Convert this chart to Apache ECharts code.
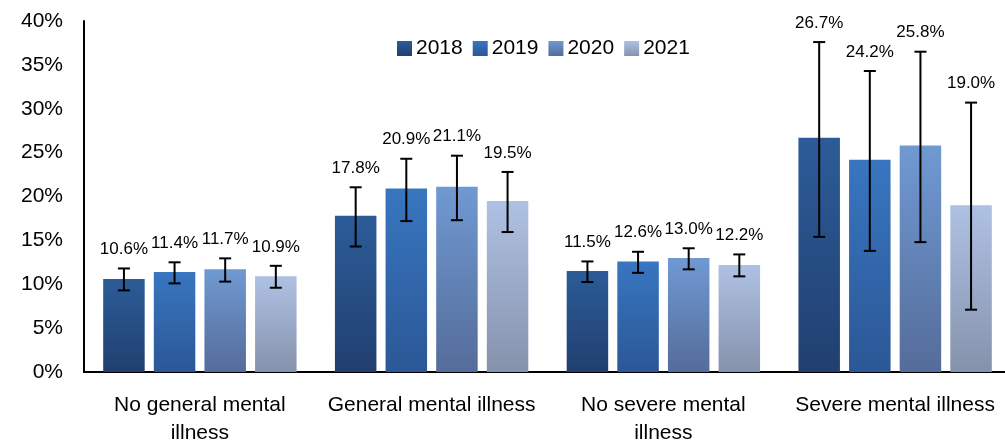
<!DOCTYPE html>
<html>
<head>
<meta charset="utf-8">
<script src="https://cdn.jsdelivr.net/npm/echarts@6/dist/echarts.min.js"></script>
<style>html,body{margin:0;padding:0;background:#fff;}#c{width:1005px;height:444px;}</style>
</head>
<body>
<div id="c"></div>
<script>
const categories = ['No general mental\nillness', 'General mental illness', 'No severe mental\nillness', 'Severe mental illness'];
const years = ['2018', '2019', '2020', '2021'];
const values2018 = [10.6, 17.8, 11.5, 26.7];
const values2019 = [11.4, 20.9, 12.6, 24.2];
const values2020 = [11.7, 21.1, 13.0, 25.8];
const values2021 = [10.9, 19.5, 12.2, 19.0];
const low2018 = [9.3, 14.3, 10.25, 15.4];
const high2018 = [11.8, 21.05, 12.6, 37.6];
const low2019 = [10.1, 17.2, 11.3, 13.8];
const high2019 = [12.5, 24.3, 13.7, 34.3];
const low2020 = [10.3, 17.3, 11.7, 14.8];
const high2020 = [12.95, 24.65, 14.1, 36.5];
const low2021 = [9.6, 15.95, 10.9, 7.1];
const high2021 = [12.1, 22.8, 13.4, 30.7];
const yMax = 40;
const yInterval = 5;

const valueSets = [values2018, values2019, values2020, values2021];
const lowSets = [low2018, low2019, low2020, low2021];
const highSets = [high2018, high2019, high2020, high2021];
const gradStops = [
  ['#2c5c98', '#213f70'],
  ['#3876c0', '#2b5796'],
  ['#7099d2', '#546c9a'],
  ['#afc1e3', '#8592ac']
];
const BAR_W = 41.5;
const BAR_GAP = 0.22;
const FONT = '"Liberation Sans", Arial, sans-serif';

const chart = echarts.init(document.getElementById('c'));
const series = [];
years.forEach((y, i) => {
  series.push({
    name: y,
    type: 'bar',
    data: valueSets[i],
    barWidth: BAR_W,
    barGap: (BAR_GAP * 100) + '%',
    itemStyle: {
      color: new echarts.graphic.LinearGradient(0, 0, 0, 1, [
        { offset: 0, color: gradStops[i][0] },
        { offset: 1, color: gradStops[i][1] }
      ])
    }
  });
});
years.forEach((y, i) => {
  series.push({
    name: y + ' error',
    type: 'custom',
    z: 5,
    data: categories.map((c, k) => [k, lowSets[i][k], highSets[i][k], valueSets[i][k]]),
    encode: { x: 0, y: [1, 2] },
    renderItem: function (params, api) {
      const k = api.value(0);
      const step = BAR_W * (1 + BAR_GAP);
      const cx = api.coord([k, 0])[0] + (i - 1.5) * step;
      const yLo = api.coord([k, api.value(1)])[1];
      const yHi = api.coord([k, api.value(2)])[1];
      const cap = 6;
      const ls = { stroke: '#000', lineWidth: 2 };
      return {
        type: 'group',
        children: [
          { type: 'line', shape: { x1: cx, y1: yLo, x2: cx, y2: yHi }, style: ls },
          { type: 'line', shape: { x1: cx - cap, y1: yLo, x2: cx + cap, y2: yLo }, style: ls },
          { type: 'line', shape: { x1: cx - cap, y1: yHi, x2: cx + cap, y2: yHi }, style: ls },
          { type: 'text', x: cx, y: yHi - 19, style: {
              text: api.value(3).toFixed(1) + '%', fill: '#000', font: '17px ' + FONT,
              align: 'center', verticalAlign: 'middle' } }
        ]
      };
    }
  });
});

chart.setOption({
  animation: false,
  grid: { left: 84, right: -6, top: 21, bottom: 72, outerBoundsMode: 'none', containLabel: false },
  legend: {
    data: years,
    left: 392,
    top: 33,
    itemWidth: 15,
    itemHeight: 15,
    itemGap: 10,
    icon: 'rect',
    textStyle: { fontSize: 21, color: '#000', fontFamily: FONT, padding: [0, 0, 0, -1] }
  },
  xAxis: {
    type: 'category',
    data: categories,
    axisLine: { lineStyle: { color: '#000', width: 2 } },
    axisTick: { show: false },
    axisLabel: { color: '#000', fontSize: 21, fontFamily: FONT, lineHeight: 28, margin: 19, interval: 0 }
  },
  yAxis: {
    type: 'value',
    min: 0,
    max: yMax,
    interval: yInterval,
    axisLine: { show: true, lineStyle: { color: '#000', width: 2 } },
    axisTick: { show: false },
    splitLine: { show: false },
    axisLabel: { color: '#000', fontSize: 21, fontFamily: FONT, margin: 21, formatter: '{value}%' }
  },
  series: series
});
</script>
</body>
</html>
